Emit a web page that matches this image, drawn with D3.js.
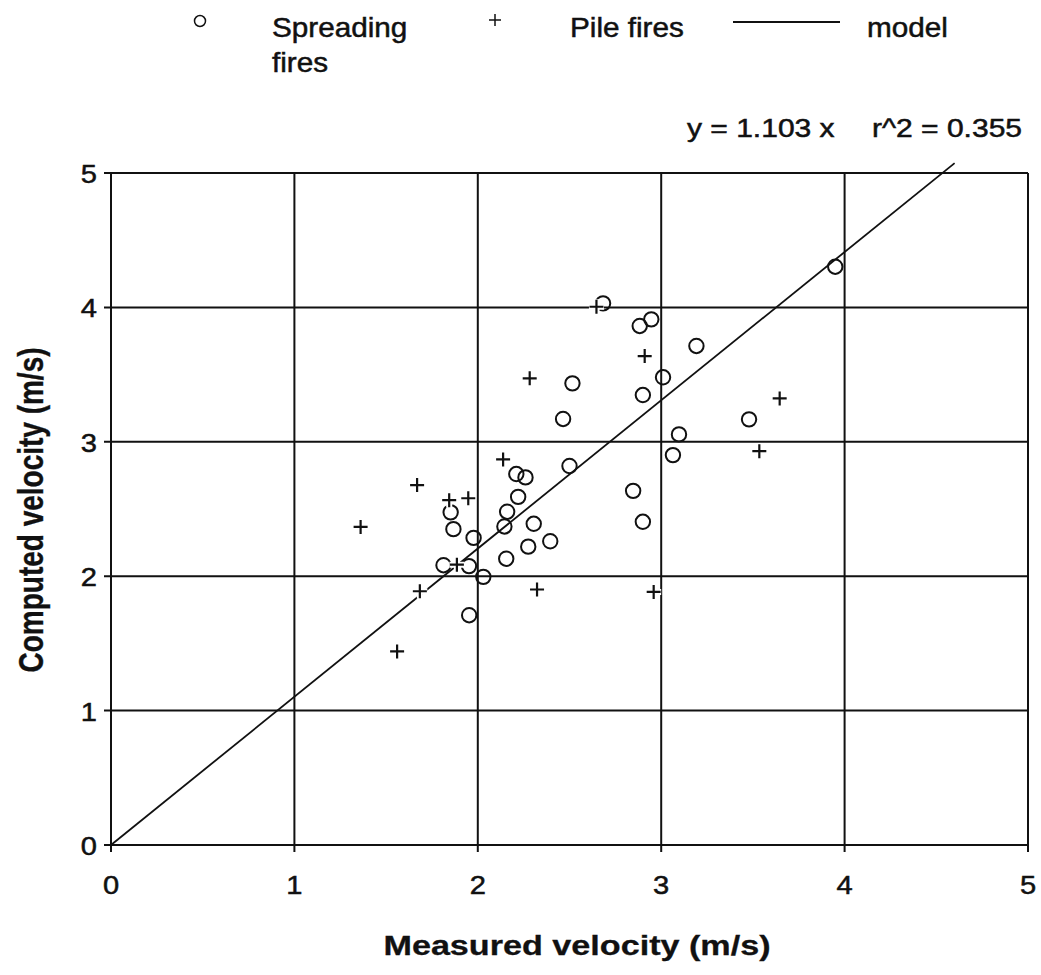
<!DOCTYPE html>
<html>
<head>
    <style>
        body { margin: 0; background: #fff; }
        svg text { font-family: "Liberation Sans", Arial, sans-serif; fill: #111; stroke: #111; stroke-width: 0.5; }
        .tick-label { font-size: 26px; }
        .axis-title { font-size: 28px; font-weight: bold; stroke-width: 0.3; }
        .legend text { font-size: 27px; }
        .eq { font-size: 25px; }
    </style>
    <script src="https://d3js.org/d3.v7.min.js"></script>
</head>
<body>
    <svg width="1041" height="975"></svg>

    <script>
        // spreading fires (circles)
        var spreadX = [2.465, 2.50, 2.21, 2.26, 2.22, 2.16, 2.145, 2.305, 2.395, 2.275, 2.155,
                       1.867, 1.852, 1.977, 1.813, 1.952, 2.03, 1.953, 2.516, 2.683, 2.883,
                       2.946, 3.192, 3.01, 2.90, 3.479, 3.097, 3.064, 2.847, 2.90, 3.949];
        var spreadY = [3.17, 2.82, 2.76, 2.735, 2.59, 2.48, 2.37, 2.39, 2.26, 2.22, 2.13,
                       2.35, 2.475, 2.285, 2.082, 2.075, 1.995, 1.71, 3.435, 4.03, 3.862,
                       3.911, 3.713, 3.48, 3.348, 3.167, 3.055, 2.901, 2.635, 2.405, 4.303];

        // pile fires (plus signs)
        var pileX = [2.138, 1.669, 1.844, 1.948, 1.361, 1.886, 1.684, 2.323, 2.283, 2.647,
                     2.91, 3.646, 3.535, 2.959, 1.56];
        var pileY = [2.869, 2.678, 2.566, 2.58, 2.367, 2.086, 1.888, 1.901, 3.472, 4.005,
                     3.638, 3.323, 2.93, 1.883, 1.44];

        var modelSlope = 1.103;
        var modelRange = [0, 4.6];
        var ticks = [0, 1, 2, 3, 4, 5];
        var legendLabels = ["Spreading", "fires", "Pile fires", "model"];

        var svg = d3.select("svg");
        var ink = "#111";

        var x = d3.scaleLinear().domain([0, 5]).range([111, 1028]);
        var y = d3.scaleLinear().domain([0, 5]).range([845, 173]);

        // grid + frame
        var grid = svg.append("g").attr("stroke", ink).attr("stroke-width", 2);
        grid.selectAll(".vg").data(ticks).enter().append("line")
            .attr("x1", function(d) { return x(d); }).attr("x2", function(d) { return x(d); })
            .attr("y1", y(5)).attr("y2", y(0) + 7);
        grid.selectAll(".hg").data(ticks).enter().append("line")
            .attr("y1", function(d) { return y(d); }).attr("y2", function(d) { return y(d); })
            .attr("x1", x(0) - 7).attr("x2", x(5));

        // tick labels
        svg.selectAll(".xl").data(ticks).enter().append("text")
            .attr("class", "tick-label")
            .attr("text-anchor", "middle")
            .attr("transform", function(d) { return "translate(" + x(d) + ",894) scale(1.12,1)"; })
            .text(function(d) { return d; });
        svg.selectAll(".yl").data(ticks).enter().append("text")
            .attr("class", "tick-label")
            .attr("text-anchor", "end")
            .attr("transform", function(d) { return "translate(97," + (y(d) + 10) + ") scale(1.12,1)"; })
            .text(function(d) { return d; });

        // axis titles
        svg.append("text").attr("class", "axis-title")
            .attr("text-anchor", "middle")
            .attr("transform", "translate(577,955) scale(1.22,1)")
            .text("Measured velocity (m/s)");
        svg.append("text").attr("class", "axis-title")
            .attr("text-anchor", "middle")
            .attr("transform", "translate(43,510) scale(1.22,1) rotate(-90)")
            .text("Computed velocity (m/s)");

        // model line
        svg.append("line")
            .attr("x1", x(modelRange[0])).attr("y1", y(modelSlope * modelRange[0]))
            .attr("x2", x(modelRange[1])).attr("y2", y(modelSlope * modelRange[1]))
            .attr("stroke", ink).attr("stroke-width", 1.8);

        // circles
        svg.append("g").selectAll("circle").data(spreadX).enter().append("circle")
            .attr("cx", function(d) { return x(d); })
            .attr("cy", function(d, i) { return y(spreadY[i]); })
            .attr("r", 7.2)
            .attr("fill", "none").attr("stroke", ink).attr("stroke-width", 2);

        // plus signs, white underlay like the scan
        var plus = function(px, py, s) {
            return "M" + (px - s) + "," + py + "H" + (px + s) + "M" + px + "," + (py - s) + "V" + (py + s);
        };
        var pg = svg.append("g");
        pg.selectAll(".pu").data(pileX).enter().append("path")
            .attr("d", function(d, i) { return plus(x(d), y(pileY[i]), 7.5); })
            .attr("stroke", "#fff").attr("stroke-width", 6);
        pg.selectAll(".pp").data(pileX).enter().append("path")
            .attr("d", function(d, i) { return plus(x(d), y(pileY[i]), 7); })
            .attr("stroke", ink).attr("stroke-width", 2.2);

        // equation
        svg.append("text").attr("class", "eq")
            .attr("transform", "translate(687,137) scale(1.2,1)")
            .text("y = " + modelSlope + " x");
        svg.append("text").attr("class", "eq")
            .attr("transform", "translate(872,137) scale(1.2,1)")
            .text("r^2 = 0.355");

        // legend
        var lg = svg.append("g").attr("class", "legend");
        lg.append("circle").attr("cx", 200).attr("cy", 21).attr("r", 5.5)
            .attr("fill", "none").attr("stroke", ink).attr("stroke-width", 1.5);
        lg.append("text").attr("transform", "translate(272,37) scale(1.1,1)").text(legendLabels[0]);
        lg.append("text").attr("transform", "translate(272,72) scale(1.1,1)").text(legendLabels[1]);
        lg.append("path").attr("d", plus(495, 20, 6)).attr("stroke", ink).attr("stroke-width", 1.5);
        lg.append("text").attr("transform", "translate(570,37) scale(1.1,1)").text(legendLabels[2]);
        lg.append("line").attr("x1", 733).attr("x2", 840).attr("y1", 22).attr("y2", 22)
            .attr("stroke", ink).attr("stroke-width", 2);
        lg.append("text").attr("transform", "translate(867,37) scale(1.1,1)").text(legendLabels[3]);
    </script>
</body>
</html>
